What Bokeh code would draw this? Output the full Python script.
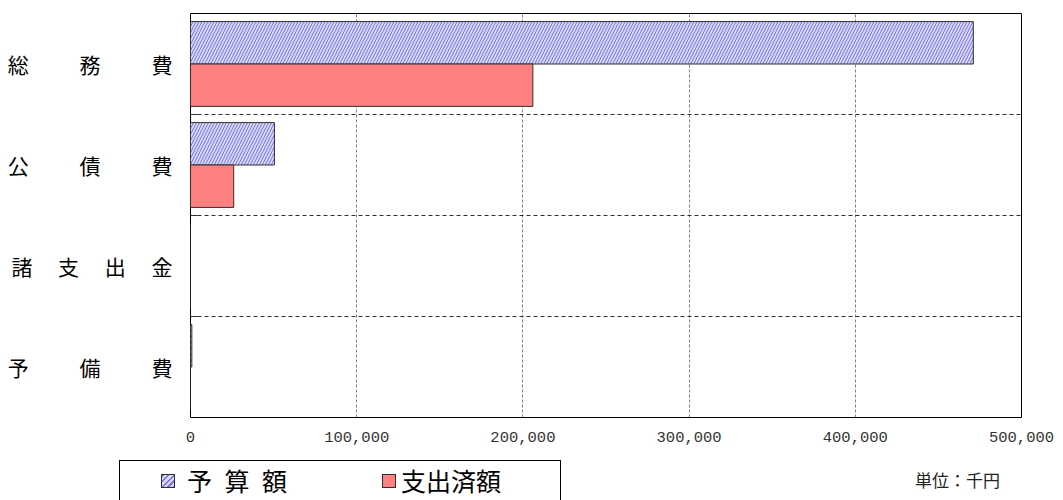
from bokeh.plotting import figure
from bokeh.models import (Range1d, FixedTicker, NumeralTickFormatter, ColumnDataSource,
                          LinearAxis, Div)
from bokeh.layouts import column
from bokeh.transform import dodge
from bokeh.embed import file_html
from bokeh.resources import INLINE

# ---- data ----
categories = ["総務費", "公債費", "諸支出金", "予備費"]
category_labels = ["総\u3000\u3000\u00a0\u2009務\u3000\u3000\u00a0\u2009費",
                   "公\u3000\u3000\u00a0\u2009債\u3000\u3000\u00a0\u2009費",
                   "諸\u3000\u00a0支\u3000\u00a0出\u3000\u00a0金",
                   "予\u3000\u3000\u00a0\u2009備\u3000\u3000\u00a0\u2009費"]
budget = [471000, 50500, 0, 800]       # 予算額 (千円)
spent = [206000, 26000, 0, 0]          # 支出済額 (千円)
x_ticks = [0, 100000, 200000, 300000, 400000, 500000]
series_names = ["予\u2002算\u2002額", "支出済額"]
unit_text = "単位：千円"

n = len(categories)
pos = [n - i - 0.5 for i in range(n)]
src = ColumnDataSource(dict(pos=pos, budget=budget, spent=spent, cat=categories))

JP = "Noto Sans CJK JP"
BUDGET_FILL = "#d6d6fc"
BUDGET_HATCH = "#7a7ad6"
SPENT_FILL = "#ff8080"
budget_style = dict(fill_color=BUDGET_FILL, line_color="#303030", line_width=1,
                    hatch_pattern="/", hatch_color=BUDGET_HATCH, hatch_scale=6, hatch_weight=1)
spent_style = dict(fill_color=SPENT_FILL, line_color="#303030", line_width=1)

p = figure(width=1063, height=453, output_backend="svg", toolbar_location=None,
           x_range=Range1d(0, 500000), y_range=Range1d(0, n),
           min_border_left=190, min_border_right=42, min_border_top=13, min_border_bottom=36,
           x_axis_location=None)
p.title = None
p.background_fill_color = "white"
p.border_fill_color = "white"
p.outline_line_color = "#000000"
p.outline_line_width = 1

r1 = p.hbar(y=dodge("pos", 0.21), left=0, right="budget", height=0.42, source=src, **budget_style)
r2 = p.hbar(y=dodge("pos", -0.21), left=0, right="spent", height=0.42, source=src, **spent_style)

# bottom axis (labels only)
xb = LinearAxis(ticker=FixedTicker(ticks=x_ticks), formatter=NumeralTickFormatter(format="0,0"))
xb.axis_line_color = None
xb.major_tick_line_color = None
xb.minor_tick_line_color = None
xb.major_tick_in = 0
xb.major_tick_out = 0
xb.major_label_standoff = 14
xb.major_label_text_font = "Liberation Mono"
xb.major_label_text_font_size = "15.5px"
xb.major_label_text_color = "#333333"
p.add_layout(xb, "below")

# y axis
p.yaxis.ticker = FixedTicker(ticks=pos, minor_ticks=[1, 2, 3])
p.yaxis.major_label_overrides = {pp: lab for pp, lab in zip(pos, category_labels)}
p.yaxis.axis_line_color = None
p.yaxis.major_tick_line_color = None
p.yaxis.major_tick_in = 0
p.yaxis.major_tick_out = 0
p.yaxis.minor_tick_in = 7
p.yaxis.minor_tick_out = 0
p.yaxis.minor_tick_line_color = "#333333"
p.yaxis.major_label_standoff = 18
p.yaxis.major_label_text_font = JP
p.yaxis.major_label_text_font_size = "21px"
p.yaxis.major_label_text_color = "#000000"

# grids
p.xgrid.ticker = FixedTicker(ticks=x_ticks)
p.xgrid.grid_line_color = "#808080"
p.xgrid.grid_line_dash = "3 2"
p.xgrid.grid_line_width = 1
p.ygrid.ticker = FixedTicker(ticks=[1, 2, 3])
p.ygrid.grid_line_color = "#303030"
p.ygrid.grid_line_dash = "4 3"
p.ygrid.grid_line_width = 1

# ---- lower strip: legend + unit (HTML) ----
hatch_css = ("background: repeating-linear-gradient(135deg, %s 0px, %s 1.5px, %s 1.5px, %s 4px);"
             % (BUDGET_HATCH, BUDGET_HATCH, BUDGET_FILL, BUDGET_FILL))
html = (
    '<div style="position:relative;width:1063px;height:47px;overflow:hidden;'
    'font-family:\'Noto Sans CJK JP\';color:#000;">'
    '<div style="position:absolute;left:114px;top:2px;width:442px;height:70px;'
    'border:1px solid #000;box-sizing:border-box;"></div>'
    '<div style="position:absolute;left:156px;top:16px;width:14px;height:14px;'
    'border:1px solid #303030;box-sizing:border-box;' + hatch_css + '"></div>'
    '<div style="position:absolute;left:182px;top:7px;font-size:25px;line-height:30px;'
    'white-space:pre;">' + series_names[0] + '</div>'
    '<div style="position:absolute;left:377px;top:16px;width:14px;height:14px;'
    'border:1px solid #303030;box-sizing:border-box;background:' + SPENT_FILL + ';"></div>'
    '<div style="position:absolute;left:396px;top:7px;font-size:25px;line-height:30px;'
    'white-space:pre;">' + series_names[1] + '</div>'
    '<div style="position:absolute;left:910px;top:11px;font-size:17px;line-height:22px;'
    'color:#222;white-space:pre;">' + unit_text + '</div>'
    '</div>'
)
strip = Div(text=html, width=1063, height=47)

layout = column(p, strip, spacing=0)
open("out.html", "w").write(file_html(layout, INLINE))
